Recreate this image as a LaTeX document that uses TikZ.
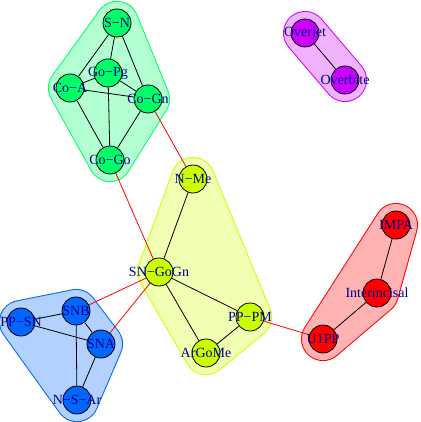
\documentclass[tikz,border=0pt]{standalone}
\usepackage{fontspec}
\setmainfont{Liberation Serif}
\usetikzlibrary{backgrounds}
\pgfdeclarelayer{hulls}
\pgfsetlayers{hulls,background,main}
\definecolor{vred}{HTML}{FF0000}
\definecolor{vyel}{HTML}{CCFF00}
\definecolor{vgrn}{HTML}{00FF66}
\definecolor{vblu}{HTML}{0066FF}
\definecolor{vpur}{HTML}{CC00FF}
\definecolor{lbl}{RGB}{0,0,139}
\newcommand{\grouphull}[2]{%
  \draw[rim, #1] #2;
  \draw[body, #1!30, fill=#1!30] #2;}

\begin{document}
\begin{tikzpicture}[x=1pt, y=-1pt]
  \tikzstyle{vtx}=[circle, draw=black, line width=0.8pt, minimum size=28pt, inner sep=0pt]
  \tikzstyle{vlabel}=[text=lbl, font=\fontsize{14}{14}\selectfont, inner sep=0pt]
  \tikzstyle{link}=[black, line width=0.8pt]
  \tikzstyle{cross}=[red, line width=0.8pt]
  \tikzstyle{rim}=[line width=44pt, line join=round, line cap=round]
  \tikzstyle{body}=[line width=42pt, line join=round, line cap=round]
  \useasboundingbox (0,0) rectangle (420,422);
  % green group
  \node[vtx, fill=vgrn, label={[vlabel]center:S−N}] (SN) at (117,23) {};
  \node[vtx, fill=vgrn, label={[vlabel]center:Go−Pg}] (GoPg) at (108,73) {};
  \node[vtx, fill=vgrn, label={[vlabel]center:Co−A}] (CoA) at (70,88) {};
  \node[vtx, fill=vgrn, label={[vlabel]center:Co−Gn}] (CoGn) at (148,99) {};
  \node[vtx, fill=vgrn, label={[vlabel]center:Co−Go}] (CoGo) at (110,160) {};
  % purple group
  \node[vtx, fill=vpur, label={[vlabel]center:Overjet}] (OJ) at (305,33) {};
  \node[vtx, fill=vpur, label={[vlabel]center:Overbite}] (OB) at (345,80) {};
  % yellow group
  \node[vtx, fill=vyel, label={[vlabel]center:N−Me}] (NMe) at (193,179) {};
  \node[vtx, fill=vyel, label={[vlabel]center:SN−GoGn}] (SNGoGn) at (159,272) {};
  \node[vtx, fill=vyel, label={[vlabel]center:PP−PM}] (PPPM) at (250,317) {};
  \node[vtx, fill=vyel, label={[vlabel]center:ArGoMe}] (ArGoMe) at (206,353) {};
  % blue group
  \node[vtx, fill=vblu, label={[vlabel]center:SNB}] (SNB) at (76,311) {};
  \node[vtx, fill=vblu, label={[vlabel]center:PP−SN}] (PPSN) at (21,322) {};
  \node[vtx, fill=vblu, label={[vlabel]center:SNA}] (SNA) at (101,344) {};
  \node[vtx, fill=vblu, label={[vlabel]center:N−S−Ar}] (NSAr) at (77,400) {};
  % red group
  \node[vtx, fill=vred, label={[vlabel]center:IMPA}] (IMPA) at (396,225) {};
  \node[vtx, fill=vred, label={[vlabel]center:Interincisal}] (Inter) at (377,293) {};
  \node[vtx, fill=vred, label={[vlabel]center:U1PP}] (U1PP) at (323,339) {};

  \begin{scope}[on background layer]
    \draw[link] (SN) -- (GoPg) (SN) -- (CoA) (SN) -- (CoGn);
    \draw[link] (GoPg) -- (CoA) (GoPg) -- (CoGn) (GoPg) -- (CoGo);
    \draw[link] (CoA) -- (CoGn) (CoA) -- (CoGo) (CoGn) -- (CoGo);
    \draw[link] (OJ) -- (OB);
    \draw[link] (NMe) -- (SNGoGn) (SNGoGn) -- (PPPM) (SNGoGn) -- (ArGoMe) (ArGoMe) -- (PPPM);
    \draw[link] (PPSN) -- (SNB) (PPSN) -- (SNA) (SNB) -- (SNA) (SNB) -- (NSAr) (SNA) -- (NSAr);
    \draw[link] (IMPA) -- (Inter) (Inter) -- (U1PP);
    \draw[cross] (CoGn) -- (NMe) (CoGo) -- (SNGoGn) (SNGoGn) -- (SNB) (SNGoGn) -- (SNA) (PPPM) -- (U1PP);
  \end{scope}

  \begin{pgfonlayer}{hulls}
    \grouphull{vgrn}{(SN.center) -- (CoA.center) -- (CoGo.center) -- (CoGn.center) -- cycle}
    \grouphull{vpur}{(OJ.center) -- (OB.center)}
    \grouphull{vyel}{(NMe.center) -- (SNGoGn.center) -- (ArGoMe.center) -- (PPPM.center) -- cycle}
    \grouphull{vblu}{(PPSN.center) -- (SNB.center) -- (SNA.center) -- (NSAr.center) -- cycle}
    \grouphull{vred}{(IMPA.center) -- (Inter.center) -- (U1PP.center) -- cycle}
  \end{pgfonlayer}
\end{tikzpicture}
\end{document}
